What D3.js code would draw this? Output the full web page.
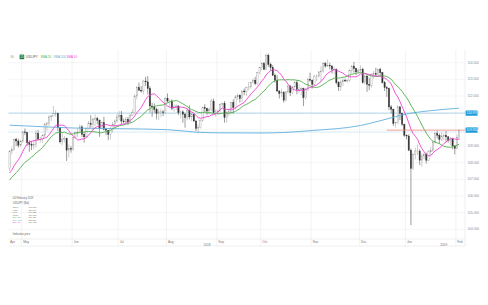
<!DOCTYPE html>
<html>
<head>
<meta charset="utf-8">
<script src="https://cdn.jsdelivr.net/npm/d3@7"></script>
<style>
  body { margin: 0; background: #fff; }
  text { font-family: "Liberation Sans", Arial, sans-serif; }
</style>
</head>
<body>
<div id="chart"></div>
<script>
/* CONSTANTS */
const width = 488, height = 305;
const plot = { left: 8.5, right: 465, top: 50, bottom: 239 };
const barStep = 2.193;

/* DATA: daily USD/JPY bars, [open, high, low, close] */
const apr18 = [
  [107.65,108.75,107.50,108.70],[108.70,108.95,108.50,108.80],[108.80,109.45,108.70,109.40],
  [109.40,109.50,109.00,109.30],[109.30,109.45,108.90,109.05],[109.05,109.35,108.95,109.30]];
const may18 = [
  [109.30,109.90,109.20,109.85],[109.85,110.05,109.65,109.80],[109.80,109.85,109.00,109.20],
  [109.20,109.35,108.65,109.10],[109.10,109.30,108.75,109.05],[109.05,109.35,108.80,109.10],
  [109.10,109.95,108.90,109.75],[109.75,109.95,109.40,109.40],[109.40,109.55,109.20,109.40],
  [109.40,109.70,109.20,109.65],[109.65,110.40,109.50,110.30],[110.30,110.45,109.90,110.35],
  [110.35,110.85,110.20,110.75],[110.75,110.85,110.50,110.80],[110.80,111.40,110.80,110.95],
  [110.95,111.15,110.75,110.95],[110.95,111.00,109.90,110.10],[110.10,110.10,109.15,109.25],
  [109.25,109.80,109.05,109.40],[109.40,109.60,109.20,109.45],[109.45,109.50,108.10,108.75],
  [108.75,109.10,108.30,108.85],[108.85,109.00,108.60,108.80]];
const jun18 = [
  [108.80,109.55,108.75,109.50],[109.50,109.85,109.45,109.80],[109.80,110.05,109.55,109.80],
  [109.80,110.30,109.75,110.15],[110.15,110.25,109.55,109.70],[109.70,109.85,109.20,109.55],
  [109.55,110.10,109.50,110.05],[110.05,110.50,110.00,110.35],[110.35,110.85,110.10,110.30],
  [110.30,110.70,109.95,110.60],[110.60,110.90,110.20,110.65],[110.65,110.75,110.30,110.55],
  [110.55,110.60,109.55,110.05],[110.05,110.45,110.00,110.40],[110.40,110.75,109.95,110.00],
  [110.00,110.10,109.65,109.95],[109.95,109.95,109.35,109.70],[109.70,110.15,109.40,110.05],
  [110.05,110.45,109.80,110.30],[110.30,110.60,110.10,110.50],[110.50,110.95,110.40,110.75]];
const jul18 = [
  [110.75,111.10,110.55,110.85],[110.85,111.10,110.30,110.50],[110.50,110.65,110.35,110.45],
  [110.45,110.75,110.30,110.60],[110.60,110.75,110.25,110.45],[110.45,110.95,110.35,110.85],
  [110.85,111.20,110.80,111.00],[111.00,112.10,110.95,112.00],[112.00,112.60,111.80,112.50],
  [112.50,112.80,112.30,112.35],[112.35,112.60,112.20,112.30],[112.30,112.95,112.10,112.90],
  [112.90,113.15,112.60,112.85],[112.85,113.20,112.10,112.45],[112.45,112.60,111.00,111.40],
  [111.40,111.60,110.75,111.35],[111.35,111.55,111.00,111.20],[111.20,111.30,110.60,110.95],
  [110.95,111.25,110.55,111.05],[111.05,111.25,110.75,111.05],[111.05,111.15,110.80,111.00],
  [111.00,111.95,110.90,111.85]];
const aug18 = [
  [111.85,112.15,111.60,111.70],[111.70,111.80,111.35,111.70],[111.70,111.80,111.15,111.25],
  [111.25,111.50,111.05,111.35],[111.35,111.50,111.15,111.40],[111.40,111.45,110.85,111.00],
  [111.00,111.10,110.65,111.05],[111.05,111.15,110.40,110.90],[110.90,111.00,110.10,110.70],
  [110.70,111.30,110.55,111.15],[111.15,111.45,110.60,110.75],[110.75,111.00,110.50,110.90],
  [110.90,110.95,110.45,110.50],[110.50,110.55,109.90,110.05],[110.05,110.30,109.75,110.10],
  [110.10,110.60,110.05,110.55],[110.55,111.35,110.45,111.30],[111.30,111.50,111.05,111.25],
  [111.25,111.30,110.85,111.10],[111.10,111.30,110.90,111.20],[111.20,111.85,111.10,111.70],
  [111.70,111.85,110.95,111.00],[111.00,111.20,110.75,111.05]];
const sep18 = [
  [111.05,111.20,110.85,111.10],[111.10,111.55,111.00,111.50],[111.50,111.60,111.30,111.55],
  [111.55,111.70,110.40,110.70],[110.70,111.10,110.40,111.00],[111.00,111.20,110.80,111.10],
  [111.10,111.65,110.90,111.60],[111.60,111.80,110.95,111.30],[111.30,112.05,111.20,111.95],
  [111.95,112.15,111.75,112.05],[112.05,112.10,111.60,111.85],[111.85,112.35,111.65,112.30],
  [112.30,112.45,112.05,112.25],[112.25,112.55,112.00,112.50],[112.50,112.85,112.35,112.55],
  [112.55,112.85,112.45,112.80],[112.80,113.05,112.75,112.95],[112.95,113.15,112.65,112.75],
  [112.75,113.45,112.65,113.40],[113.40,113.70,113.30,113.70]];
const oct18 = [
  [113.70,114.05,113.55,113.95],[113.95,114.05,113.55,113.60],[113.60,114.55,113.55,114.45],
  [114.45,114.55,113.75,113.90],[113.90,114.00,113.55,113.70],[113.70,113.85,113.20,113.25],
  [113.25,113.35,112.80,112.95],[112.95,113.25,112.25,112.30],[112.30,112.35,111.85,112.15],
  [112.15,112.45,111.95,112.20],[112.20,112.30,111.60,111.75],[111.75,112.30,111.70,112.25],
  [112.25,112.70,112.15,112.60],[112.60,112.65,112.00,112.20],[112.20,112.60,112.10,112.55],
  [112.55,112.90,112.45,112.80],[112.80,112.95,112.10,112.40],[112.40,112.70,112.20,112.40],
  [112.40,112.55,112.05,112.45],[112.45,112.50,111.40,111.90],[111.90,112.50,111.80,112.40],
  [112.40,113.10,112.30,113.00],[113.00,113.40,112.85,112.95]];
const nov18 = [
  [112.95,113.00,112.45,112.70],[112.70,113.25,112.60,113.20],[113.20,113.30,112.90,113.20],
  [113.20,113.50,113.10,113.45],[113.45,113.80,112.85,113.50],[113.50,114.05,113.40,113.95],
  [113.95,114.05,113.70,113.80],[113.80,114.20,113.75,113.85],[113.85,114.00,113.60,113.80],
  [113.80,113.85,113.35,113.60],[113.60,113.75,113.30,113.60],[113.60,113.65,112.70,112.80],
  [112.80,112.90,112.30,112.55],[112.55,112.95,112.30,112.85],[112.85,113.05,112.60,112.95],
  [112.95,113.05,112.85,112.90],[112.90,113.00,112.80,112.95],[112.95,113.60,112.85,113.55],
  [113.55,113.85,113.35,113.80],[113.80,114.05,113.40,113.65],[113.65,113.70,113.25,113.45],
  [113.45,113.65,113.35,113.55]];
const dec18 = [
  [113.55,113.85,113.45,113.60],[113.60,113.70,112.75,112.80],[112.80,113.25,112.70,113.20],
  [113.20,113.25,112.25,112.70],[112.70,113.10,112.35,112.65],[112.65,113.35,112.50,113.30],
  [113.30,113.50,113.05,113.35],[113.35,113.70,113.20,113.30],[113.30,113.65,113.25,113.60],
  [113.60,113.70,113.20,113.40],[113.40,113.45,112.75,112.80],[112.80,112.90,112.30,112.50],
  [112.50,112.60,111.95,112.45],[112.45,112.50,111.15,111.35],[111.35,111.45,110.95,111.20],
  [111.20,111.25,110.20,110.35],[110.35,110.45,110.10,110.40],[110.40,111.45,110.30,111.35],
  [111.35,111.40,110.55,110.95],[110.95,111.00,110.20,110.30],[110.30,110.35,109.55,109.65]];
const jan19 = [
  [109.65,109.70,109.40,109.60],[109.60,109.70,108.70,108.75],[108.75,108.85,104.25,107.65],
  [107.65,108.55,107.55,108.50],[108.50,108.90,108.20,108.70],[108.70,109.10,108.45,108.70],
  [108.70,108.80,107.85,108.15],[108.15,108.55,107.75,108.40],[108.40,108.65,108.20,108.50],
  [108.50,108.60,107.95,108.15],[108.15,108.75,108.10,108.65],[108.65,108.95,108.45,108.75],
  [108.75,109.30,108.65,109.25],[109.25,109.85,109.15,109.75],[109.75,109.90,109.45,109.65],
  [109.65,109.75,109.15,109.40],[109.40,109.85,109.30,109.60],[109.60,109.75,109.35,109.65],
  [109.65,109.90,109.25,109.55],[109.55,109.60,109.20,109.35],[109.35,109.55,109.05,109.40],
  [109.40,109.50,108.80,109.00],[109.00,109.05,108.50,108.85]];
const feb19 = [
  [108.85,109.70,108.80,109.50],[109.50,110.00,109.35,109.95]];

// closes before the first visible bar (26 Mar - 20 Apr 2018), feed the SMAs
const priorCloses = [105.40,105.40,106.85,106.30,106.30,105.95,106.60,106.80,107.40,106.90,
  106.75,107.20,106.80,107.35,107.35,107.10,107.05,107.20,107.40,107.65];

// 200-day SMA
const sma200Points = [
  ["2018-04-23",110.25],["2018-05-15",110.15],["2018-06-01",110.08],["2018-07-02",110.04],
  ["2018-08-01",109.98],["2018-08-20",109.83],["2018-09-03",109.79],["2018-10-01",109.78],
  ["2018-10-15",109.81],["2018-11-01",109.93],["2018-12-03",110.23],["2018-12-17",110.55],
  ["2019-01-02",110.95],["2019-01-16",111.12],["2019-02-04",111.27]];

const yTicks = [104,105,106,107,108,109,110,111,112,113,114];
const monthLabels = ["Apr","May","Jun","Jul","Aug","Sep","Oct","Nov","Dec","Jan","Feb"];
const yearLabels = ["2018","2019"];
const yearAnchors = ["2018-08-27","2019-01-24"];

const hLineLevel = 110.970;     // blue horizontal line
const dottedLevel = 109.84;     // dotted line
const redLineStart = "2018-12-19";

/* BUILD TABLE */
const bars = [].concat(apr18, may18, jun18, jul18, aug18, sep18, oct18, nov18, dec18, jan19, feb19);
const days = d3.timeDay.range(new Date(2018, 3, 23), new Date(2019, 1, 5))
  .filter(d => d.getDay() !== 0 && d.getDay() !== 6);
const data = days.map((d, i) => ({
  i, date: d, open: bars[i][0], high: bars[i][1], low: bars[i][2], close: bars[i][3]
}));
const parse = d3.timeParse("%Y-%m-%d");
const indexOf = d => d3.bisector(e => e.date).left(data, parse(d));

const allCloses = priorCloses.concat(data.map(d => d.close));
const p = priorCloses.length;
const sma = n => data.map(d => ({ i: d.i, v: d3.mean(allCloses.slice(d.i + p - n + 1, d.i + p + 1)) }));
const sma10 = sma(10), sma20 = sma(20);
const sma200 = sma200Points.map(([d, v]) => ({ i: indexOf(d), v }));

/* SCALES */
const xScale = d3.scaleBand()
  .domain(d3.range(data.length))
  .range([plot.left, plot.left + data.length * barStep])
  .paddingInner(0.42)
  .paddingOuter(0.21);
const cx = i => xScale(i) + xScale.bandwidth() / 2;
const yScale = d3.scaleLinear().domain([104, 114]).range([229.3, 62.7]);

const svg = d3.select("#chart").append("svg")
  .attr("width", width)
  .attr("height", height);

/* GRID */
svg.append("g").selectAll("line")
  .data(yTicks)
  .join("line")
  .attr("x1", plot.left).attr("x2", plot.right)
  .attr("y1", d => yScale(d)).attr("y2", d => yScale(d))
  .attr("stroke", "#ededed").attr("stroke-width", 0.5);

const monthStarts = d3.timeMonth.range(new Date(2018, 4, 1), new Date(2019, 2, 1))
  .map(m => d3.bisector(e => e.date).left(data, m));
const gridX = i => cx(i) - barStep / 2;

svg.append("g").selectAll("line")
  .data(monthStarts)
  .join("line")
  .attr("x1", gridX).attr("x2", gridX)
  .attr("y1", plot.top).attr("y2", 246)
  .attr("stroke", "#e6e6e6").attr("stroke-width", 0.5);

// frame
svg.append("line").attr("x1", plot.right).attr("x2", plot.right).attr("y1", plot.top).attr("y2", 246)
  .attr("stroke", "#dcdcdc").attr("stroke-width", 0.5);
svg.append("line").attr("x1", plot.left).attr("x2", plot.right).attr("y1", plot.bottom).attr("y2", plot.bottom)
  .attr("stroke", "#dcdcdc").attr("stroke-width", 0.5);
svg.append("line").attr("x1", plot.left).attr("x2", plot.right).attr("y1", 246).attr("y2", 246)
  .attr("stroke", "#dcdcdc").attr("stroke-width", 0.5);

/* REFERENCE LINES */
svg.append("line")
  .attr("x1", plot.left).attr("x2", plot.right)
  .attr("y1", yScale(hLineLevel)).attr("y2", yScale(hLineLevel))
  .attr("stroke", "#9fd0ea").attr("stroke-width", 0.8);
svg.append("line")
  .attr("x1", plot.left).attr("x2", plot.right)
  .attr("y1", yScale(dottedLevel)).attr("y2", yScale(dottedLevel))
  .attr("stroke", "#8cc4e4").attr("stroke-width", 0.7)
  .attr("stroke-dasharray", "0.8,0.8");

/* CANDLES */
const last = data[data.length - 1];
const candle = svg.append("g").selectAll("g")
  .data(data)
  .join("g");

candle.append("line")
  .attr("x1", d => cx(d.i)).attr("x2", d => cx(d.i))
  .attr("y1", d => yScale(d.high)).attr("y2", d => yScale(d.low))
  .attr("stroke", d => d.close >= d.open ? "#9a9a9a" : "#3a3a3a")
  .attr("stroke-width", 0.5);

candle.append("rect")
  .attr("x", d => xScale(d.i))
  .attr("width", xScale.bandwidth())
  .attr("y", d => yScale(Math.max(d.open, d.close)))
  .attr("height", d => Math.max(0.5, Math.abs(yScale(d.open) - yScale(d.close))))
  .attr("fill", d => d.close >= d.open ? "#ffffff" : "#333333")
  .attr("stroke", d => d.close >= d.open ? "#8a8a8a" : "#333333")
  .attr("stroke-width", 0.35);

/* MOVING AVERAGES */
const line = d3.line().x(d => cx(d.i)).y(d => yScale(d.v));

svg.append("path").datum(sma200)
  .attr("d", line.curve(d3.curveMonotoneX))
  .attr("fill", "none").attr("stroke", "#62b0dc").attr("stroke-width", 0.9);
svg.append("path").datum(sma20)
  .attr("d", line.curve(d3.curveLinear))
  .attr("fill", "none").attr("stroke", "#4fae48").attr("stroke-width", 0.9);
svg.append("path").datum(sma10)
  .attr("d", line.curve(d3.curveLinear))
  .attr("fill", "none").attr("stroke", "#ee3fcf").attr("stroke-width", 0.9);

// current price line
svg.append("line")
  .attr("x1", cx(indexOf(redLineStart))).attr("x2", plot.right)
  .attr("y1", yScale(last.close)).attr("y2", yScale(last.close))
  .attr("stroke", "#f28b82").attr("stroke-width", 0.8);

/* Y AXIS LABELS */
svg.append("g").selectAll("text")
  .data(yTicks)
  .join("text")
  .attr("x", 467.5)
  .attr("y", d => yScale(d) + 1.1)
  .attr("font-size", 3.2)
  .attr("fill", "#8a8a8a")
  .text(d => d3.format(".3f")(d));

const boxes = [hLineLevel, last.close];
const box = svg.append("g").selectAll("g").data(boxes).join("g")
  .attr("transform", d => `translate(465.6,${yScale(d) - 2.6})`);
box.append("rect").attr("width", 12).attr("height", 5.2).attr("rx", 0.6).attr("fill", "#1d9bd7");
box.append("text").attr("x", 1).attr("y", 3.7).attr("font-size", 3.2).attr("fill", "#fff")
  .text(d => d3.format(".3f")(d));

/* X AXIS LABELS */
const monthX = [plot.left + 1.5].concat(monthStarts.map(i => gridX(i) + 1.5));
svg.append("g").selectAll("text")
  .data(monthLabels)
  .join("text")
  .attr("x", (d, k) => monthX[k])
  .attr("y", 242.8)
  .attr("font-size", 3.2)
  .attr("fill", "#777")
  .text(d => d);

svg.append("g").selectAll("text")
  .data(yearLabels)
  .join("text")
  .attr("x", (d, k) => cx(indexOf(yearAnchors[k])))
  .attr("y", 245.6)
  .attr("text-anchor", "middle")
  .attr("font-size", 3.2)
  .attr("fill", "#777")
  .text(d => d);

/* TOP LEGEND */
const legend = svg.append("g").attr("font-size", 3.0);
legend.append("text").attr("x", 10.5).attr("y", 58.3).attr("fill", "#888").text("IG");
legend.append("rect").attr("x", 19.6).attr("y", 54.6).attr("width", 4.6).attr("height", 4.6).attr("fill", "#1f7a2e");
legend.append("text").attr("x", 20.3).attr("y", 58.1).attr("font-size", 2.6).attr("fill", "#fff").text("1D");
const legendItems = [
  { t: "USDJPY", c: "#555", x: 25.8 },
  { t: "SMA 20", c: "#4fae48", x: 40.6 },
  { t: "SMA 200", c: "#62b0dc", x: 53.6 },
  { t: "SMA 10", c: "#ee3fcf", x: 66.6 }
];
legend.selectAll("text.item").data(legendItems).join("text")
  .attr("class", "item")
  .attr("x", d => d.x).attr("y", 58.3)
  .attr("fill", d => d.c)
  .text(d => d.t);

/* INFO PANEL */
const f3 = d3.format(".3f");
const info = [
  { k: "Open", v: f3(last.open), c: "#666" },
  { k: "High", v: f3(last.high), c: "#666" },
  { k: "Low", v: f3(last.low), c: "#666" },
  { k: "Close", v: f3(last.close), c: "#666" },
  { k: "SMA 20", v: f3(sma20[last.i].v), c: "#4fae48" },
  { k: "SMA 200", v: f3(sma200[sma200.length - 1].v), c: "#62b0dc" },
  { k: "SMA 10", v: f3(sma10[last.i].v), c: "#ee3fcf" }
];
const panel = svg.append("g").attr("font-size", 2.2);
panel.append("text").attr("x", 12.8).attr("y", 198.8).attr("font-size", 2.6).attr("fill", "#666")
  .text(d3.timeFormat("%d %B %Y")(last.date));
panel.append("text").attr("x", 12.8).attr("y", 203.8).attr("font-size", 2.6).attr("fill", "#666").text("USDJPY (Bid)");
panel.selectAll("text.k").data(info).join("text")
  .attr("class", "k")
  .attr("x", 12.8).attr("y", (d, k) => 208.4 + k * 2.45)
  .attr("fill", d => d.c).text(d => d.k);
panel.selectAll("text.v").data(info).join("text")
  .attr("class", "v")
  .attr("x", 28.5).attr("y", (d, k) => 208.4 + k * 2.45)
  .attr("fill", "#666").text(d => d.v);
panel.append("text").attr("x", 12.8).attr("y", 234.8).attr("font-size", 2.6).attr("fill", "#666").text("Indicative price");
</script>
</body>
</html>
